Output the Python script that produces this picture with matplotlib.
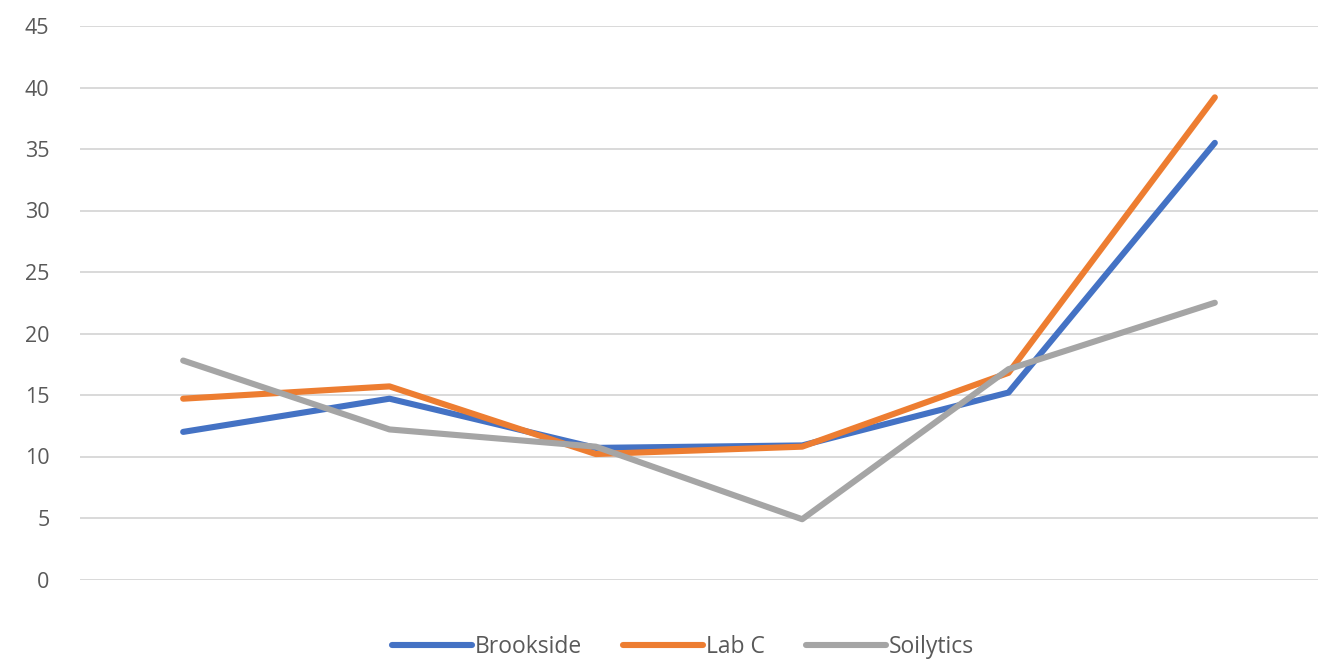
import numpy as np
import matplotlib.pyplot as plt

# values
samples = [1, 2, 3, 4, 5, 6]
brookside = [12.0, 14.7, 10.7, 10.9, 15.2, 35.5]
lab_c = [14.7, 15.7, 10.2, 10.8, 16.8, 39.2]
soilytics = [17.8, 12.2, 10.8, 4.9, 17.1, 22.5]
y_ticks = [0, 5, 10, 15, 20, 25, 30, 35, 40, 45]

plt.rcParams['font.family'] = ['Open Sans', 'DejaVu Sans']

fig = plt.figure(figsize=(13.18, 6.6), dpi=100)
ax = fig.add_axes([80 / 1318, 1 - 579.5 / 660, 1 - 80 / 1318, (579.5 - 26) / 660])

x = np.arange(len(samples))
style = dict(lw=4.4, solid_capstyle='round', solid_joinstyle='round')
ax.plot(x, brookside, color='#4472C4', label='Brookside', **style)
ax.plot(x, lab_c, color='#ED7D31', label='Lab C', **style)
ax.plot(x, soilytics, color='#A5A5A5', label='Soilytics', **style)

ax.set_xlim(-0.5, len(samples) - 0.5)
ax.set_ylim(0, 45)
ax.set_yticks(y_ticks)
ax.set_xticks([])
ax.yaxis.grid(True, color='#D9D9D9', lw=1.4)
ax.set_axisbelow(True)
for s in ax.spines.values():
    s.set_visible(False)
ax.tick_params(axis='y', length=0, pad=22, labelsize=15.5, labelcolor='#595959')
for lbl in ax.get_yticklabels():
    lbl.set_fontweight('medium')

fig.legend(loc='center', bbox_to_anchor=(683 / 1318, 1 - 647 / 660), ncol=3, frameon=False,
           fontsize=16.5, labelcolor='#595959', handlelength=3.5, handletextpad=0.12,
           columnspacing=1.8, prop={'weight': 'medium', 'size': 16.5})

fig.savefig('out.png', dpi=100, facecolor='white')
